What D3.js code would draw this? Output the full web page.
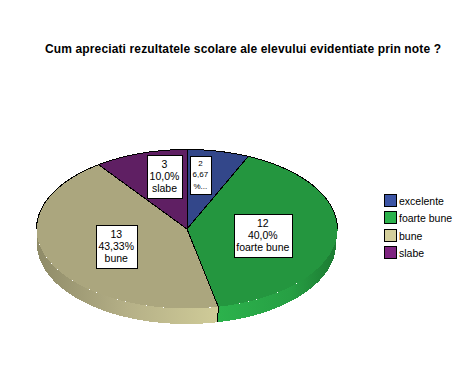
<!DOCTYPE html>
<html>

<head>
  <meta charset="UTF-8">
  <title>Cum apreciati rezultatele scolare</title>
  <script src="https://d3js.org/d3.v7.min.js"></script>
  <style>
    body {
      margin: 0;
      padding: 0;
      background: white;
    }

    svg {
      display: block;
      font-family: "Liberation Sans", Arial, sans-serif;
    }

    .title {
      font-size: 12px;
      font-weight: bold;
    }

    .legend-label {
      font-size: 10.5px;
    }

    .slice-label {
      text-anchor: middle;
    }
  </style>
</head>

<body>
  <svg id="chart" width="456" height="390"></svg>

  <script>
    var categories = ["excelente", "foarte bune", "bune", "slabe"];
    var counts = [2, 12, 13, 3];
    var percents = ["6,67", "40,0%", "43,33%", "10,0%"];

    var topColors = ["#33478a", "#24963f", "#aba67e", "#5f1f63"];
    var legendColors = ["#3c55a5", "#2cb24c", "#d4cf9c", "#7e2480"];

    var cx = 187, cy = 229, rx = 150.5, ry = 79.5;
    var bottomCx = 186.5, bottomCy = 244, bottomRx = 149.5, bottomRy = 80;

    var svg = d3.select("#chart");
    var defs = svg.append("defs");

    svg.append("text")
      .attr("class", "title")
      .attr("x", 243)
      .attr("y", 53)
      .attr("text-anchor", "middle")
      .attr("textLength", 396)
      .text("Cum apreciati rezultatele scolare ale elevului evidentiate prin note ?");

    var pie = d3.pie().sort(null).value(function (d) { return d; });
    var slices = pie(counts);

    // the ellipse point for a pie angle (0 = up, clockwise)
    function px(a) { return cx + rx * Math.sin(a); }
    function py(a) { return cy - ry * Math.cos(a); }
    function bx(a) { return bottomCx + bottomRx * Math.sin(a); }
    function by(a) { return bottomCy - bottomRy * Math.cos(a); }

    // side wall shading runs across the pie, light at the front
    var wallShades = {
      1: [[0, "#2cb24c"], [0.6, "#27a044"], [1, "#1c7a32"]],
      2: [[0, "#8f8b68"], [0.5, "#b5b087"], [1, "#cfcb98"]]
    };
    var wallSpans = { 1: [218, 337], 2: [37, 217] };

    Object.keys(wallShades).forEach(function (k) {
      var grad = defs.append("linearGradient")
        .attr("id", "wall" + k)
        .attr("gradientUnits", "userSpaceOnUse")
        .attr("x1", wallSpans[k][0]).attr("x2", wallSpans[k][1])
        .attr("y1", 0).attr("y2", 0);
      wallShades[k].forEach(function (s) {
        grad.append("stop").attr("offset", s[0]).attr("stop-color", s[1]);
      });
    });

    // side wall, only the part facing the viewer
    slices.forEach(function (s, i) {
      var a0 = Math.max(s.startAngle, Math.PI / 2);
      var a1 = Math.min(s.endAngle, Math.PI * 1.5);
      if (a0 >= a1) return;
      var angles = d3.range(a0, a1, 0.01).concat([a1]);
      var pts = angles.map(function (a) { return [px(a), py(a)]; });
      var low = angles.slice().reverse().map(function (a) { return [bx(a), by(a)]; });
      svg.append("path")
        .attr("d", d3.line()(pts.concat(low)) + "Z")
        .attr("fill", "url(#wall" + i + ")")
        .attr("shape-rendering", "crispEdges");
    });

    // top face
    var arc = d3.arc().innerRadius(0).outerRadius(1);
    var face = svg.append("g")
      .attr("transform", "translate(" + cx + "," + cy + ") scale(" + rx + "," + ry + ")");

    face.selectAll("path")
      .data(slices)
      .enter()
      .append("path")
      .attr("d", arc)
      .attr("fill", function (d, i) { return topColors[i]; })
      .attr("shape-rendering", "crispEdges");

    // back half of the rim has a dark outline
    var rim = d3.range(-Math.PI / 2, Math.PI / 2, 0.01).map(function (a) { return [px(a), py(a)]; });
    svg.append("path")
      .attr("d", d3.line()(rim))
      .attr("fill", "none")
      .attr("stroke", "#000")
      .attr("stroke-width", 1)
      .attr("shape-rendering", "crispEdges");

    // slice borders
    slices.forEach(function (s) {
      svg.append("line")
        .attr("x1", cx).attr("y1", cy)
        .attr("x2", px(s.startAngle)).attr("y2", py(s.startAngle))
        .attr("stroke", "#000")
        .attr("shape-rendering", "crispEdges");
      if (Math.cos(s.startAngle) < 0) {
        svg.append("line")
          .attr("x1", px(s.startAngle)).attr("y1", py(s.startAngle))
          .attr("x2", bx(s.startAngle)).attr("y2", by(s.startAngle))
          .attr("stroke", "#000")
          .attr("shape-rendering", "crispEdges");
      }
    });

    // value labels in white boxes
    var labelRadius = [0.7, 0.5, 0.5, 0.7];
    var labelNudge = [[-8.5, 0], [1, 2], [-2, 1], [10, 0]];
    var lineHeight = [11.5, 12, 12, 12];
    var labelSize = [8, 10.5, 10.5, 10.5];
    var boxPad = [[2.5, 1.5], [2.5, 3.5], [2.5, 3.5], [2.5, 3.5]];

    slices.forEach(function (s, i) {
      var mid = (s.startAngle + s.endAngle) / 2;
      var x = cx + rx * labelRadius[i] * Math.sin(mid) + labelNudge[i][0];
      var y = cy - ry * labelRadius[i] * Math.cos(mid) + labelNudge[i][1];
      var lines = i === 0
        ? [String(counts[i]), percents[i], "%..."]
        : [String(counts[i]), percents[i], categories[i]];
      var g = svg.append("g");
      var box = g.append("rect").attr("fill", "white").attr("stroke", "#000")
        .attr("shape-rendering", "crispEdges");
      var text = g.append("text").attr("class", "slice-label")
        .style("font-size", labelSize[i] + "px");
      lines.forEach(function (t, j) {
        text.append("tspan")
          .attr("x", x)
          .attr("y", y + (j - 1) * lineHeight[i] + labelSize[i] * 0.36)
          .text(t);
      });
      var w = text.node().getBBox().width + boxPad[i][0] * 2;
      var h = lineHeight[i] * 3 + boxPad[i][1] * 2;
      box.attr("x", Math.round(x - w / 2) + 0.5)
        .attr("y", Math.round(y - h / 2) + 0.5)
        .attr("width", Math.round(w))
        .attr("height", Math.round(h));
    });

    // legend
    var legend = svg.append("g")
      .selectAll("g")
      .data(categories)
      .enter()
      .append("g")
      .attr("transform", function (d, i) { return "translate(384," + Math.round(194 + i * 17.3) + ")"; });

    legend.append("rect")
      .attr("width", 12)
      .attr("height", 12)
      .attr("x", 0.5)
      .attr("y", 0.5)
      .attr("fill", function (d, i) { return legendColors[i]; })
      .attr("stroke", "#000")
      .attr("shape-rendering", "crispEdges");

    legend.append("text")
      .attr("class", "legend-label")
      .attr("x", 15)
      .attr("y", 11)
      .text(function (d) { return d; });
  </script>
</body>

</html>
